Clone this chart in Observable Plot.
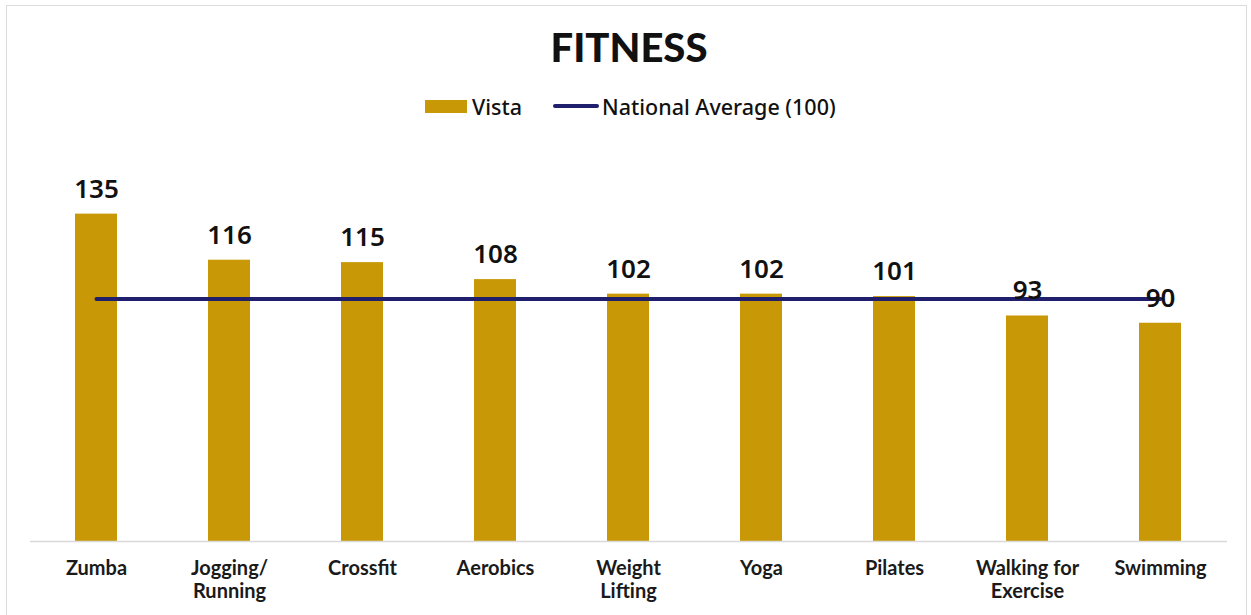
<!DOCTYPE html>
<html>
<head>
<meta charset="utf-8">
<script src="https://cdn.jsdelivr.net/npm/d3@7"></script>
<script src="https://cdn.jsdelivr.net/npm/@observablehq/plot@0.6"></script>
<style>
  html, body { margin: 0; padding: 0; background: #fff; }
  #page { position: relative; width: 1251px; height: 615px; overflow: hidden; }
  #frame { position: absolute; left: 6px; top: 5px; width: 1241px; height: 640px; border: 1.5px solid #dcdcdc; box-sizing: border-box; }
  #title { position: absolute; left: 0; width: 1258px; top: 27px; text-align: center; font-family: Lato, sans-serif; font-weight: 900; font-size: 40px; line-height: 40px; color: #111; }
  #legend { position: absolute; top: 93px; left: 425px; height: 26px; display: flex; align-items: center; font-family: "Noto Sans", sans-serif; font-weight: 500; font-size: 21.5px; color: #111; }
  .sw { width: 42px; height: 13px; background: #C89806; margin-right: 5px; }
  .ln { width: 46px; height: 4px; border-radius: 2px; background: #1F1F6E; margin-left: 31px; margin-right: 3px; }
  #chart { position: absolute; left: 0; top: 130px; }
</style>
</head>
<body>
<div id="page">
  <div id="frame"></div>
  <div id="title">FITNESS</div>
  <div id="legend"><div class="sw"></div><span>Vista</span><div class="ln"></div><span>National Average (100)</span></div>
  <div id="chart"></div>
</div>
<script>
const categories = ["Zumba", "Jogging/\nRunning", "Crossfit", "Aerobics", "Weight\nLifting", "Yoga", "Pilates", "Walking for\nExercise", "Swimming"];
const vista = [135, 116, 115, 108, 102, 102, 101, 93, 90];
const nationalAverage = [100, 100, 100, 100, 100, 100, 100, 100, 100];

const data = categories.map((c, i) => ({cat: c, vista: vista[i], avg: nationalAverage[i]}));

const chart = Plot.plot({
  width: 1251,
  height: 485,
  marginLeft: 30,
  marginRight: 24,
  marginTop: 71.5,
  marginBottom: 74,
  style: {background: "transparent", overflow: "visible"},
  x: {domain: categories, paddingInner: 0.684, paddingOuter: 0.342, axis: null},
  y: {domain: [0, 140], axis: null},
  marks: [
    Plot.barY(data, {x: "cat", y: "vista", fill: "#C89806"}),
    Plot.ruleY([0], {stroke: "#d9d9d9", strokeWidth: 1.5}),
    Plot.lineY(data, {x: "cat", y: "avg", stroke: "#1F1F6E", strokeWidth: 4, strokeLinecap: "round"}),
    Plot.text(data, {x: "cat", y: "vista", text: d => String(d.vista), lineAnchor: "bottom", dy: -16.5, fontSize: 26, fontWeight: 600, fontFamily: "Noto Sans", fill: "#111"}),
    Plot.text(data, {x: "cat", y: 0, text: "cat", lineAnchor: "top", dy: 17, fontSize: 20, fontWeight: 700, fontFamily: "Lato", fill: "#1a1a1a", lineHeight: 1.15})
  ]
});
document.getElementById("chart").appendChild(chart);
</script>
</body>
</html>
